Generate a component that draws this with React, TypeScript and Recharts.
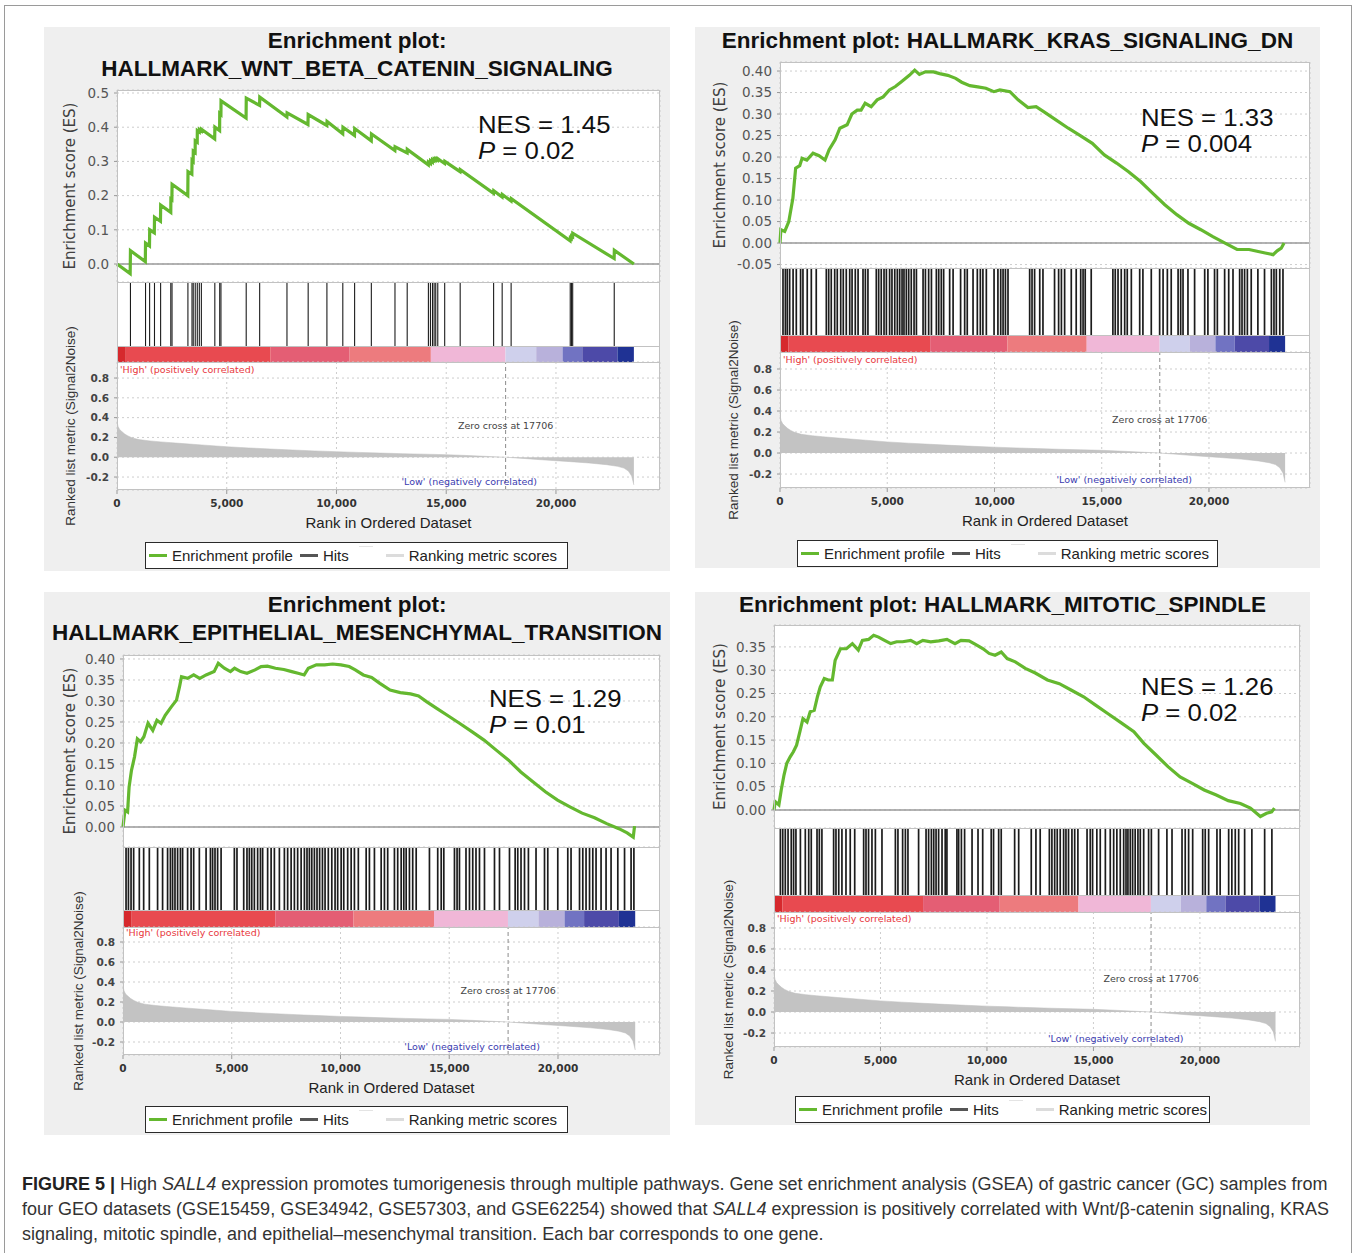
import React from 'react';
import {
  LineChart,
  Line,
  AreaChart,
  Area,
  ComposedChart,
  Scatter,
  XAxis,
  YAxis,
  CartesianGrid,
  ReferenceLine,
  ReferenceArea,
  ReferenceDot,
} from 'recharts';

// ---- shared by all four plots ----
const rankTicks = [0, 5000, 10000, 15000, 20000];
const metricTicks = [-0.2, 0, 0.2, 0.4, 0.6, 0.8];
const zeroCross = 17706;

// ranked list metric (Signal2Noise): [rank, value]
const metricCurve = [
  [0, 0.36], [50, 0.31], [120, 0.28], [220, 0.26], [350, 0.235], [500, 0.215], [700, 0.195],
  [1000, 0.178], [1500, 0.165], [2000, 0.155], [3000, 0.138], [4000, 0.122], [5000, 0.106],
  [6000, 0.094], [7000, 0.083], [8000, 0.073], [9000, 0.064], [10000, 0.056], [11000, 0.049],
  [12000, 0.042], [13000, 0.036], [14000, 0.031], [15000, 0.026], [16000, 0.017], [17000, 0.007],
  [17706, 0], [18500, -0.012], [19500, -0.028], [20500, -0.042], [21500, -0.058], [22300, -0.075],
  [22800, -0.092], [23100, -0.11], [23300, -0.14], [23450, -0.19], [23550, -0.28],
];

// heat strip under the hits
const stripEdges = [0, 400, 7000, 10600, 14300, 17700, 19100, 20300, 21200, 22800, 23550];
const stripColors = [
  '#d6292d', '#e84a50', '#e45e74', '#ed7b7e', '#f0b7d7',
  '#cfd0ec', '#b8b1db', '#7173c2', '#4d4aa8', '#1f3294',
];

// ---- WNT / beta-catenin ----
const wntES = [
  [0, 0], [600, -0.028], [613, 0.039], [1290, 0.007], [1300, 0.061], [1480, 0.053], [1490, 0.1],
  [1700, 0.091], [1710, 0.137], [1980, 0.125], [1990, 0.172], [2450, 0.151], [2455, 0.19],
  [2500, 0.188], [2510, 0.233], [3225, 0.2], [3235, 0.27], [3410, 0.263], [3420, 0.303],
  [3470, 0.3], [3475, 0.33], [3560, 0.326], [3565, 0.36], [3655, 0.356], [3660, 0.39],
  [3750, 0.386], [3755, 0.393], [3840, 0.389], [3845, 0.394], [4450, 0.366], [4460, 0.4],
  [4675, 0.39], [4680, 0.44], [4735, 0.437], [4740, 0.477], [5880, 0.427], [5890, 0.485],
  [6495, 0.464], [6505, 0.488], [7740, 0.43], [7750, 0.442], [8700, 0.408], [8710, 0.437],
  [9560, 0.405], [9570, 0.417], [10285, 0.381], [10295, 0.4], [10820, 0.376], [10830, 0.396],
  [11585, 0.36], [11595, 0.38], [12660, 0.332], [12670, 0.343], [13220, 0.325], [13225, 0.335],
  [14185, 0.29], [14190, 0.298], [14280, 0.294], [14285, 0.302], [14370, 0.298], [14375, 0.305],
  [14445, 0.302], [14450, 0.307], [14520, 0.304], [14525, 0.308], [14610, 0.304], [14615, 0.308],
  [14925, 0.294], [14935, 0.3], [15630, 0.27], [15640, 0.276], [17155, 0.207], [17165, 0.214],
  [17545, 0.196], [17555, 0.203], [17955, 0.184], [17965, 0.191], [20645, 0.068], [20655, 0.076],
  [20700, 0.074], [20710, 0.082], [20760, 0.08], [20765, 0.09], [22650, 0.016], [22660, 0.04],
  [23550, 0],
];
const wntHits = [
  613, 1300, 1486, 1708, 1987, 2451, 2507, 3231, 3417, 3473, 3565, 3658, 3751, 3844, 4457, 4680,
  4736, 5887, 6500, 7744, 8710, 9564, 10288, 10826, 11588, 12665, 13222, 14188, 14281, 14374,
  14448, 14522, 14615, 14930, 15636, 17159, 17549, 17957, 20650, 20706, 20762, 22655,
];

// ---- KRAS signaling DN ----
const krasES = [
  [0, 0], [40, 0.031], [220, 0.027], [410, 0.05], [600, 0.104], [730, 0.174], [920, 0.18],
  [1030, 0.197], [1250, 0.193], [1540, 0.209], [1820, 0.203], [2100, 0.193], [2290, 0.217],
  [2570, 0.24], [2790, 0.267], [3130, 0.275], [3350, 0.3], [3600, 0.309], [3780, 0.309],
  [3970, 0.325], [4250, 0.317], [4530, 0.333], [4810, 0.34], [5100, 0.356], [5380, 0.364],
  [5660, 0.375], [6030, 0.39], [6280, 0.402], [6500, 0.392], [6780, 0.398], [7160, 0.398],
  [7440, 0.394], [7820, 0.39], [8190, 0.383], [8470, 0.374], [8850, 0.366], [9220, 0.363],
  [9600, 0.36], [9970, 0.352], [10250, 0.356], [10720, 0.352], [11100, 0.333], [11560, 0.315],
  [11940, 0.317], [12310, 0.305], [12880, 0.286], [13440, 0.267], [14000, 0.25], [14560, 0.232],
  [15120, 0.205], [15690, 0.186], [16250, 0.166], [16810, 0.143], [17370, 0.116], [17940, 0.089],
  [18500, 0.066], [19060, 0.046], [19620, 0.031], [20180, 0.015], [20750, 0], [21310, -0.015],
  [21870, -0.015], [22240, -0.019], [22620, -0.023], [22990, -0.027], [23180, -0.018],
  [23370, -0.012], [23500, 0],
];
const krasHits = [
  140, 250, 340, 450, 610, 760, 960, 1070, 1270, 1460, 1690, 2160, 2270, 2390, 2550, 2670, 2830,
  2950, 3090, 3250, 3360, 3510, 3640, 3870, 3980, 4100, 4490, 4600, 4720, 4850, 4960, 5110, 5220,
  5350, 5470, 5580, 5690, 5780, 5890, 6000, 6120, 6250, 6360, 6670, 6780, 6930, 7060, 7290, 7400,
  7520, 7630, 7910, 8070, 8420, 8610, 8730, 9000, 9200, 9340, 9460, 9620, 9980, 10160, 10290,
  10400, 10510, 10630, 11640, 11750, 11870, 12110, 12260, 12800, 12990, 13120, 13270, 13580,
  13810, 14020, 14130, 14230, 14510, 15520, 15630, 15760, 15910, 16070, 16190, 16380, 16770,
  16920, 17310, 17700, 17860, 18060, 18240, 18560, 18680, 18790, 19020, 19330, 19800, 19950,
  20260, 20390, 20730, 20920, 21120, 21430, 21540, 21660, 21790, 21970, 22280, 22590, 22910,
  23030, 23140, 23300, 23450,
];

// ---- epithelial mesenchymal transition ----
const emtES = [
  [0, 0], [90, 0.04], [210, 0.036], [280, 0.095], [390, 0.135], [530, 0.167], [660, 0.21],
  [810, 0.203], [960, 0.215], [1150, 0.247], [1370, 0.23], [1560, 0.254], [1750, 0.247],
  [1940, 0.266], [2220, 0.286], [2460, 0.302], [2600, 0.334], [2690, 0.358], [2970, 0.354],
  [3250, 0.362], [3530, 0.354], [3820, 0.362], [4190, 0.37], [4380, 0.39], [4660, 0.378],
  [4940, 0.37], [5130, 0.378], [5410, 0.37], [5700, 0.366], [6070, 0.374], [6350, 0.382],
  [6640, 0.383], [7010, 0.378], [7390, 0.375], [7760, 0.37], [8050, 0.366], [8330, 0.362],
  [8520, 0.378], [8890, 0.386], [9270, 0.386], [9640, 0.388], [10020, 0.386], [10400, 0.382],
  [10680, 0.374], [11050, 0.362], [11430, 0.356], [11810, 0.342], [12280, 0.326], [12750, 0.32],
  [13220, 0.317], [13590, 0.312], [13970, 0.298], [14440, 0.282], [14910, 0.266], [15470, 0.247],
  [16040, 0.227], [16600, 0.207], [17160, 0.183], [17730, 0.159], [18290, 0.131], [18860, 0.107],
  [19420, 0.084], [19980, 0.064], [20550, 0.048], [21110, 0.033], [21680, 0.022], [22240, 0.008],
  [22800, -0.004], [23180, -0.014], [23460, -0.024], [23520, 0.002],
];
const emtHits = [
  140, 250, 370, 490, 750, 950, 1210, 1590, 1820, 2050, 2180, 2280, 2390, 2510, 2640, 2740, 2970,
  3130, 3250, 3510, 3820, 4020, 4120, 4230, 4350, 4510, 5120, 5240, 5550, 5700, 5810, 5920, 6040,
  6190, 6320, 6420, 6650, 6810, 6960, 7190, 7420, 7570, 7730, 7880, 8030, 8190, 8340, 8460, 8570,
  8680, 8800, 8920, 9040, 9170, 9290, 9440, 9600, 9750, 9870, 10030, 10150, 10330, 10490, 10640,
  10820, 11180, 11330, 11560, 11870, 12020, 12170, 12480, 12630, 12790, 12910, 13020, 13170,
  13320, 13480, 14090, 14470, 14630, 14750, 15240, 15360, 15470, 15770, 15930, 16080, 16230,
  16390, 16620, 17080, 17310, 17770, 18030, 18150, 18300, 18460, 18640, 18990, 19380, 19530,
  19990, 20450, 20600, 20990, 21140, 21290, 21450, 21600, 21750, 21980, 22210, 22440, 22750,
  23060, 23360, 23490,
];

// ---- mitotic spindle ----
const mitoES = [
  [0, 0], [60, 0.018], [230, 0.011], [340, 0.043], [470, 0.075], [600, 0.1], [760, 0.114],
  [910, 0.125], [1060, 0.139], [1230, 0.171], [1360, 0.196], [1550, 0.189], [1700, 0.211],
  [1890, 0.214], [2040, 0.243], [2170, 0.264], [2360, 0.282], [2550, 0.279], [2740, 0.279],
  [2870, 0.321], [3120, 0.346], [3400, 0.346], [3680, 0.357], [3960, 0.343], [4150, 0.364],
  [4440, 0.366], [4680, 0.375], [4910, 0.371], [5190, 0.364], [5480, 0.357], [5760, 0.361],
  [6040, 0.361], [6420, 0.364], [6700, 0.357], [6990, 0.364], [7360, 0.361], [7740, 0.363],
  [8120, 0.366], [8500, 0.357], [8780, 0.364], [9160, 0.363], [9440, 0.356], [9820, 0.346],
  [10100, 0.336], [10380, 0.332], [10670, 0.339], [10950, 0.325], [11330, 0.318], [11800, 0.304],
  [12270, 0.294], [12840, 0.279], [13400, 0.271], [13970, 0.257], [14540, 0.243], [15100, 0.225],
  [15670, 0.207], [16240, 0.189], [16900, 0.168], [17370, 0.143], [17940, 0.118], [18500, 0.093],
  [19070, 0.071], [19640, 0.057], [20200, 0.043], [20770, 0.032], [21330, 0.02], [21900, 0.014],
  [22370, 0.004], [22840, -0.014], [23130, -0.007], [23370, -0.004], [23500, 0.004],
];
const mitoHits = [
  300, 410, 530, 660, 810, 920, 1030, 1240, 1470, 1630, 1750, 2020, 2130, 2250, 2800, 2910, 3040,
  3190, 3380, 3580, 3790, 4210, 4320, 4440, 4600, 4760, 5070, 5700, 5820, 6040, 6170, 6290, 6790,
  7140, 7260, 7390, 7500, 7610, 7730, 7890, 8040, 8120, 8590, 8670, 8800, 8950, 9300, 9580, 9800,
  10200, 10310, 10550, 10670, 11300, 11490, 12080, 12300, 12500, 12930, 13050, 13180, 13300,
  13440, 13600, 13710, 13830, 13990, 14120, 14270, 14700, 14850, 14960, 15160, 15320, 15560,
  15790, 15950, 16100, 16260, 16420, 16530, 16620, 16730, 16840, 16960, 17090, 17200, 17360,
  17590, 17720, 18060, 18450, 18690, 19160, 19310, 19470, 19660, 20130, 20250, 20410, 20800,
  20950, 21350, 21500, 21660, 21820, 22100, 22440, 23040, 23380,
];

// ---- layout of the four panels ----
type PanelCfg = {
  box: number[]; // left, top, right, bottom of the grey panel
  title: string[];
  titleY: number[];
  plotL: number;
  plotR: number;
  esTop: number;
  esBot: number;
  hitsBot: number;
  barBot: number;
  metBot: number;
  esDomain: [number, number];
  esTicks: number[];
  esDigits: number;
  metDomain: [number, number];
  xMax: number;
  es: number[][];
  hits: number[];
  hitWidth: number;
  nes: string;
  p: string;
  nesX: number;
  nesY: number;
  esLabelX: number;
  metLabelX: number;
  legend: number[]; // left, top, width
};

const panels: PanelCfg[] = [
  {
    box: [44, 27, 670, 571],
    title: ['Enrichment plot:', 'HALLMARK_WNT_BETA_CATENIN_SIGNALING'],
    titleY: [41, 69],
    plotL: 117, plotR: 660, esTop: 90, esBot: 282, hitsBot: 346, barBot: 362, metBot: 490,
    esDomain: [-0.0526, 0.5088],
    esTicks: [0, 0.1, 0.2, 0.3, 0.4, 0.5],
    esDigits: 1,
    metDomain: [-0.331, 0.962],
    xMax: 24740,
    es: wntES, hits: wntHits, hitWidth: 1.1,
    nes: '1.45', p: '0.02', nesX: 478, nesY: 125,
    esLabelX: 70, metLabelX: 70,
    legend: [145, 542, 423],
  },
  {
    box: [695, 27, 1320, 568],
    title: ['Enrichment plot: HALLMARK_KRAS_SIGNALING_DN'],
    titleY: [41],
    plotL: 780, plotR: 1310, esTop: 62, esBot: 268, hitsBot: 335, barBot: 352, metBot: 488,
    esDomain: [-0.058, 0.421],
    esTicks: [-0.05, 0, 0.05, 0.1, 0.15, 0.2, 0.25, 0.3, 0.35, 0.4],
    esDigits: 2,
    metDomain: [-0.333, 0.962],
    xMax: 24710,
    es: krasES, hits: krasHits, hitWidth: 1.7,
    nes: '1.33', p: '0.004', nesX: 1141, nesY: 118,
    esLabelX: 720, metLabelX: 733,
    legend: [797, 540, 421],
  },
  {
    box: [44, 592, 670, 1135],
    title: ['Enrichment plot:', 'HALLMARK_EPITHELIAL_MESENCHYMAL_TRANSITION'],
    titleY: [605, 633],
    plotL: 123, plotR: 660, esTop: 655, esBot: 847, hitsBot: 910, barBot: 927, metBot: 1055,
    esDomain: [-0.0476, 0.4095],
    esTicks: [0, 0.05, 0.1, 0.15, 0.2, 0.25, 0.3, 0.35, 0.4],
    esDigits: 2,
    metDomain: [-0.33, 0.95],
    xMax: 24690,
    es: emtES, hits: emtHits, hitWidth: 1.7,
    nes: '1.29', p: '0.01', nesX: 489, nesY: 699,
    esLabelX: 70, metLabelX: 78,
    legend: [145, 1106, 423],
  },
  {
    box: [695, 592, 1310, 1125],
    title: ['Enrichment plot: HALLMARK_MITOTIC_SPINDLE'],
    titleY: [605],
    plotL: 774, plotR: 1300, esTop: 625, esBot: 828, hitsBot: 895, barBot: 912, metBot: 1047,
    esDomain: [-0.0387, 0.397],
    esTicks: [0, 0.05, 0.1, 0.15, 0.2, 0.25, 0.3, 0.35],
    esDigits: 2,
    metDomain: [-0.333, 0.952],
    xMax: 24700,
    es: mitoES, hits: mitoHits, hitWidth: 1.7,
    nes: '1.26', p: '0.02', nesX: 1141, nesY: 687,
    esLabelX: 720, metLabelX: 728,
    legend: [795, 1096, 415],
  },
];

const GREEN = '#64b82f';
const BORDER = '#c2c2c2';
const GRID = '#cdcdcd';
const SANS = 'Liberation Sans, Arial, sans-serif';
const DEJAVU = 'DejaVu Sans, sans-serif';
const X_AXIS_H = 38;

const fmtRank = (v: number) => v.toLocaleString('en-US');

function Legend({ left, top, width }: { left: number; top: number; width: number }) {
  const swatch = (color: string, ml: number, h = 3) => (
    <span style={{ display: 'inline-block', width: 18, height: h, background: color, marginLeft: ml, marginRight: 5 }} />
  );
  return (
    <div
      style={{
        position: 'absolute', left, top, width, height: 27, boxSizing: 'border-box',
        border: '1.5px solid #2a2a2a', background: '#fff', display: 'flex', alignItems: 'center',
        fontFamily: SANS, fontSize: 15, color: '#222', whiteSpace: 'nowrap',
      }}
    >
      {swatch(GREEN, 3)}
      <span>Enrichment profile</span>
      {swatch('#555', 7)}
      <span>Hits</span>
      <span style={{ display: 'inline-block', width: 14, height: 1, background: '#e4e4e4', marginLeft: 10, alignSelf: 'flex-start', marginTop: 3 }} />
      {swatch('#dcdcdc', 13)}
      <span>Ranking metric scores</span>
    </div>
  );
}

function GseaPanel({ cfg }: { cfg: PanelCfg }) {
  const [bgL, bgT, bgR, bgB] = cfg.box;
  const { plotL, plotR, esTop, esBot, hitsBot, barBot, metBot } = cfg;
  const axisW = plotL - bgL;
  const chartW = plotR - bgL;
  const stripH = barBot - esBot;
  const hitLen = hitsBot - esBot;
  const barFrac = (barBot - hitsBot) / stripH;

  const esData = cfg.es.map(([rank, es]) => ({ rank, es }));
  const hitData = cfg.hits.map((rank) => ({ rank, top: 1 }));
  const metData = metricCurve.map(([rank, value]) => ({ rank, value }));
  const segments = stripColors.map((color, i) => ({ x1: stripEdges[i], x2: stripEdges[i + 1], color }));

  const hitShape = (props: any) => (
    <line x1={props.cx} x2={props.cx} y1={props.cy} y2={props.cy + hitLen} stroke="#1c1c1c" strokeWidth={cfg.hitWidth} />
  );

  const tinyLabel = (value: string, fill: string, position: any) => ({
    value, position, fill, fontSize: 9.5, fontFamily: DEJAVU, offset: 2,
  });

  return (
    <>
      <div style={{ position: 'absolute', left: bgL, top: bgT, width: bgR - bgL, height: bgB - bgT, background: '#efefef' }} />
      {cfg.title.map((t, i) => (
        <div
          key={t}
          style={{
            position: 'absolute', left: bgL, width: bgR - bgL, top: cfg.titleY[i] - 13, height: 26,
            lineHeight: '26px', textAlign: 'center', fontFamily: SANS, fontWeight: 700, fontSize: 22.5,
            color: '#111', whiteSpace: 'nowrap',
          }}
        >
          {t}
        </div>
      ))}
      <div style={{ position: 'absolute', left: plotL, top: esTop, width: plotR - plotL, height: metBot - esTop, background: '#fff' }} />

      {/* running enrichment score */}
      <div style={{ position: 'absolute', left: bgL, top: esTop }}>
        <LineChart width={chartW} height={esBot - esTop} data={esData} margin={{ top: 0, right: 0, bottom: 0, left: 0 }}>
          <CartesianGrid stroke={GRID} strokeDasharray="2 3" />
          <XAxis dataKey="rank" type="number" domain={[0, cfg.xMax]} ticks={rankTicks} interval={0} height={0} tick={false} axisLine={false} tickLine={false} />
          <YAxis
            type="number"
            domain={cfg.esDomain}
            ticks={cfg.esTicks}
            interval={0}
            allowDataOverflow
            width={axisW}
            axisLine={false}
            tickSize={3}
            tickMargin={5}
            tickLine={{ stroke: '#999' }}
            tickFormatter={(v: number) => v.toFixed(cfg.esDigits)}
            tick={{ fontSize: 13.5, fill: '#555', fontFamily: DEJAVU }}
            label={{
              value: 'Enrichment score (ES)', angle: -90, position: 'insideLeft', offset: cfg.esLabelX - bgL,
              style: { textAnchor: 'middle', fontSize: 15, fill: '#404040', fontFamily: DEJAVU },
            }}
          />
          <ReferenceLine y={0} stroke="#9a9a9a" strokeWidth={1.5} />
          <Line dataKey="es" type="linear" stroke={GREEN} strokeWidth={3.2} dot={false} isAnimationActive={false} />
        </LineChart>
      </div>

      {/* hits and heat strip */}
      <div style={{ position: 'absolute', left: plotL, top: esBot }}>
        <ComposedChart width={plotR - plotL} height={stripH} data={hitData} margin={{ top: 0, right: 0, bottom: 0, left: 0 }}>
          <XAxis dataKey="rank" type="number" domain={[0, cfg.xMax]} hide />
          <YAxis dataKey="top" type="number" domain={[0, 1]} hide />
          {segments.map((s) => (
            <ReferenceArea key={s.x1} x1={s.x1} x2={s.x2} y1={0} y2={barFrac} fill={s.color} fillOpacity={1} stroke="none" />
          ))}
          <Scatter dataKey="top" shape={hitShape} isAnimationActive={false} />
        </ComposedChart>
      </div>

      {/* ranked list metric */}
      <div style={{ position: 'absolute', left: bgL, top: barBot }}>
        <AreaChart width={chartW} height={metBot - barBot + X_AXIS_H} data={metData} margin={{ top: 0, right: 0, bottom: 0, left: 0 }}>
          <CartesianGrid stroke={GRID} strokeDasharray="2 3" />
          <XAxis
            dataKey="rank"
            type="number"
            domain={[0, cfg.xMax]}
            ticks={rankTicks}
            interval={0}
            height={X_AXIS_H}
            axisLine={false}
            tickSize={4}
            tickMargin={6}
            tickLine={{ stroke: '#999' }}
            tickFormatter={fmtRank}
            tick={{ fontSize: 10.5, fill: '#333', fontFamily: DEJAVU, fontWeight: 700 }}
            label={{
              value: 'Rank in Ordered Dataset', position: 'insideBottom', offset: 0,
              style: { fontSize: 15, fill: '#222', fontFamily: SANS },
            }}
          />
          <YAxis
            type="number"
            domain={cfg.metDomain}
            ticks={metricTicks}
            interval={0}
            allowDataOverflow
            width={axisW}
            axisLine={false}
            tickSize={3}
            tickMargin={5}
            tickLine={{ stroke: '#999' }}
            tickFormatter={(v: number) => v.toFixed(1)}
            tick={{ fontSize: 10.5, fill: '#444', fontFamily: DEJAVU, fontWeight: 700 }}
            label={{
              value: 'Ranked list metric (Signal2Noise)', angle: -90, position: 'insideLeft', offset: cfg.metLabelX - bgL,
              style: { textAnchor: 'middle', fontSize: 13.5, fill: '#333', fontFamily: SANS },
            }}
          />
          <Area dataKey="value" type="linear" stroke="#bdbdbd" strokeWidth={0.5} fill="#c3c3c3" fillOpacity={1} baseValue={0} isAnimationActive={false} />
          <ReferenceLine x={zeroCross} stroke="#8c8c8c" strokeDasharray="4 3" />
          <ReferenceDot x={zeroCross} y={0.315} r={1} fill="none" stroke="none" label={tinyLabel('Zero cross at 17706', '#444', 'center')} />
          <ReferenceDot x={16050} y={-0.25} r={1} fill="none" stroke="none" label={tinyLabel("'Low' (negatively correlated)", '#3b3bb0', 'center')} />
          <ReferenceDot x={0} y={0.89} r={1} fill="none" stroke="none" label={tinyLabel("'High' (positively correlated)", '#e8383d', 'right')} />
        </AreaChart>
      </div>

      {/* plot frames */}
      <div style={{ position: 'absolute', left: plotL, top: esTop, width: plotR - plotL, height: metBot - esTop, boxSizing: 'border-box', border: `1px solid ${BORDER}` }} />
      {[esBot, hitsBot, barBot].map((y) => (
        <div key={y} style={{ position: 'absolute', left: plotL, top: y, width: plotR - plotL, height: 1, background: BORDER }} />
      ))}

      <div
        style={{
          position: 'absolute', left: cfg.nesX, top: cfg.nesY - 13, fontFamily: SANS, fontSize: 23,
          lineHeight: '26px', color: '#111', whiteSpace: 'nowrap', transform: 'scaleX(1.12)', transformOrigin: 'left top',
        }}
      >
        <div style={{ height: 26 }}>NES = {cfg.nes}</div>
        <div style={{ height: 26 }}><i>P</i> = {cfg.p}</div>
      </div>

      <Legend left={cfg.legend[0]} top={cfg.legend[1]} width={cfg.legend[2]} />
    </>
  );
}

export default function App() {
  return (
    <div
      style={{
        position: 'absolute', left: 0, top: 0, width: 1358, height: 1253, overflow: 'hidden',
        background: '#fff', fontFamily: SANS,
      }}
    >
      <style>{'.recharts-surface { overflow: visible; }'}</style>
      <div style={{ position: 'absolute', left: 4, top: 5, width: 1346, height: 1300, border: '1px solid #9a9a9a' }} />
      {panels.map((p) => (
        <GseaPanel key={p.title.join()} cfg={p} />
      ))}
      <div
        style={{
          position: 'absolute', left: 22, top: 1172, fontFamily: SANS, fontSize: 18, lineHeight: '25px',
          color: '#333', whiteSpace: 'nowrap',
        }}
      >
        <b style={{ color: '#222' }}>FIGURE 5 |</b> High <i>SALL4</i> expression promotes tumorigenesis through multiple pathways. Gene set enrichment analysis (GSEA) of gastric cancer (GC) samples from
        <br />
        four GEO datasets (GSE15459, GSE34942, GSE57303, and GSE62254) showed that <i>SALL4</i> expression is positively correlated with Wnt/β-catenin signaling, KRAS
        <br />
        signaling, mitotic spindle, and epithelial–mesenchymal transition. Each bar corresponds to one gene.
      </div>
    </div>
  );
}
